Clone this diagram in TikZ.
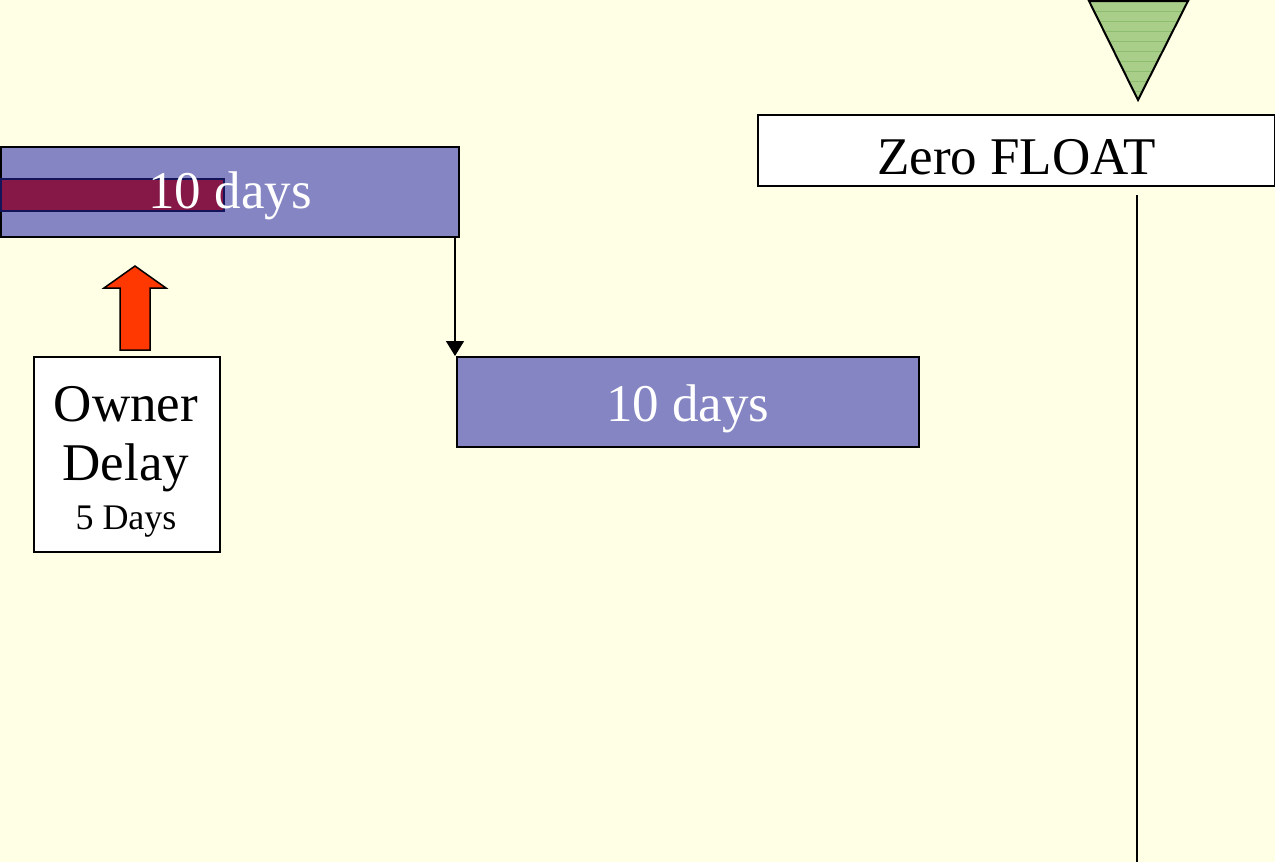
\documentclass[tikz,border=0pt]{standalone}
\usepackage{fontspec}
\setmainfont{Liberation Serif}
\usetikzlibrary{arrows.meta}
\definecolor{bg}{RGB}{255,255,229}
\definecolor{barblue}{RGB}{133,133,196}
\definecolor{barred}{RGB}{134,24,72}
\definecolor{arrowred}{RGB}{255,55,0}
\definecolor{trigreen}{RGB}{168,206,138}
\definecolor{trilines}{RGB}{140,190,110}
\definecolor{navy}{RGB}{20,20,90}
\tikzset{
  bar/.style={draw=black, line width=1.5pt, fill=barblue, inner sep=0pt, anchor=north west},
  redbar/.style={draw=navy, line width=1.5pt, fill=barred, inner sep=0pt, anchor=north west},
  bartext/.style={text=white, font=\fontsize{53}{60}\selectfont, inner sep=0pt},
  whitebox/.style={draw=black, line width=1.5pt, fill=white, inner sep=0pt, anchor=north west},
  bigtext/.style={font=\fontsize{53}{60}\selectfont, inner sep=0pt},
  smalltext/.style={font=\fontsize{36}{42}\selectfont, inner sep=0pt},
  link/.style={draw=black, line width=1.5pt, -{Triangle[length=15pt,width=18pt]}},
}
\begin{document}
\begin{tikzpicture}[x=1pt,y=-1pt]
\fill[bg] (0,0) rectangle (1275,862);
\useasboundingbox (0,0) rectangle (1275,862);
% first task bar
\node[bar, minimum width=458pt, minimum height=90pt] (b1) at (0,146) {};
\node[redbar, minimum width=223pt, minimum height=32pt] (r1) at (0,178) {};
\node[bartext] (t1) at (230,196) {10 days};
% second task bar
\node[bar, minimum width=462pt, minimum height=90pt] (b2) at (456,356) {};
\node[bartext, yshift=-7pt] (t2) at (b2.center) {10 days};
% connector
\coordinate (c1) at (455,236);
\draw[link] (c1) -- (c1 |- b2.north);
% owner delay box
\node[whitebox, minimum width=186pt, minimum height=195pt] (od) at (33,356) {};
\node[bigtext] (o1) at (126,404) {Owner};
\node[bigtext] (o2) at (126,468) {Delay};
\node[smalltext] (o3) at (126,522) {5 Days};
% up arrow
\draw[draw=black, line width=1.5pt, fill=arrowred, line join=miter]
  (120,350) -- (120,288) -- (104,288) -- (135,266) -- (166,288) -- (150,288) -- (150,350) -- cycle;
% zero float
\node[whitebox, minimum width=517pt, minimum height=71pt] (zf) at (757,114) {};
\node[bigtext, yshift=-7pt] (zft) at (zf.center) {Zero FLOAT};
% triangle
\begin{scope}
\clip (1089,1) -- (1188,1) -- (1138,100) -- cycle;
\fill[trigreen] (1080,0) rectangle (1200,110);
\foreach \yy in {11,21,...,91} \draw[trilines, line width=1pt] (1080,\yy) -- (1200,\yy);
\end{scope}
\draw[line width=2pt, line join=miter] (1089,1) -- (1188,1) -- (1138,100) -- cycle;
% vertical float line
\coordinate (v1) at (1137,195);
\coordinate (v2) at (1137,862);
\draw[line width=2.5pt] (v1) -- (v2);
\end{tikzpicture}
\end{document}
